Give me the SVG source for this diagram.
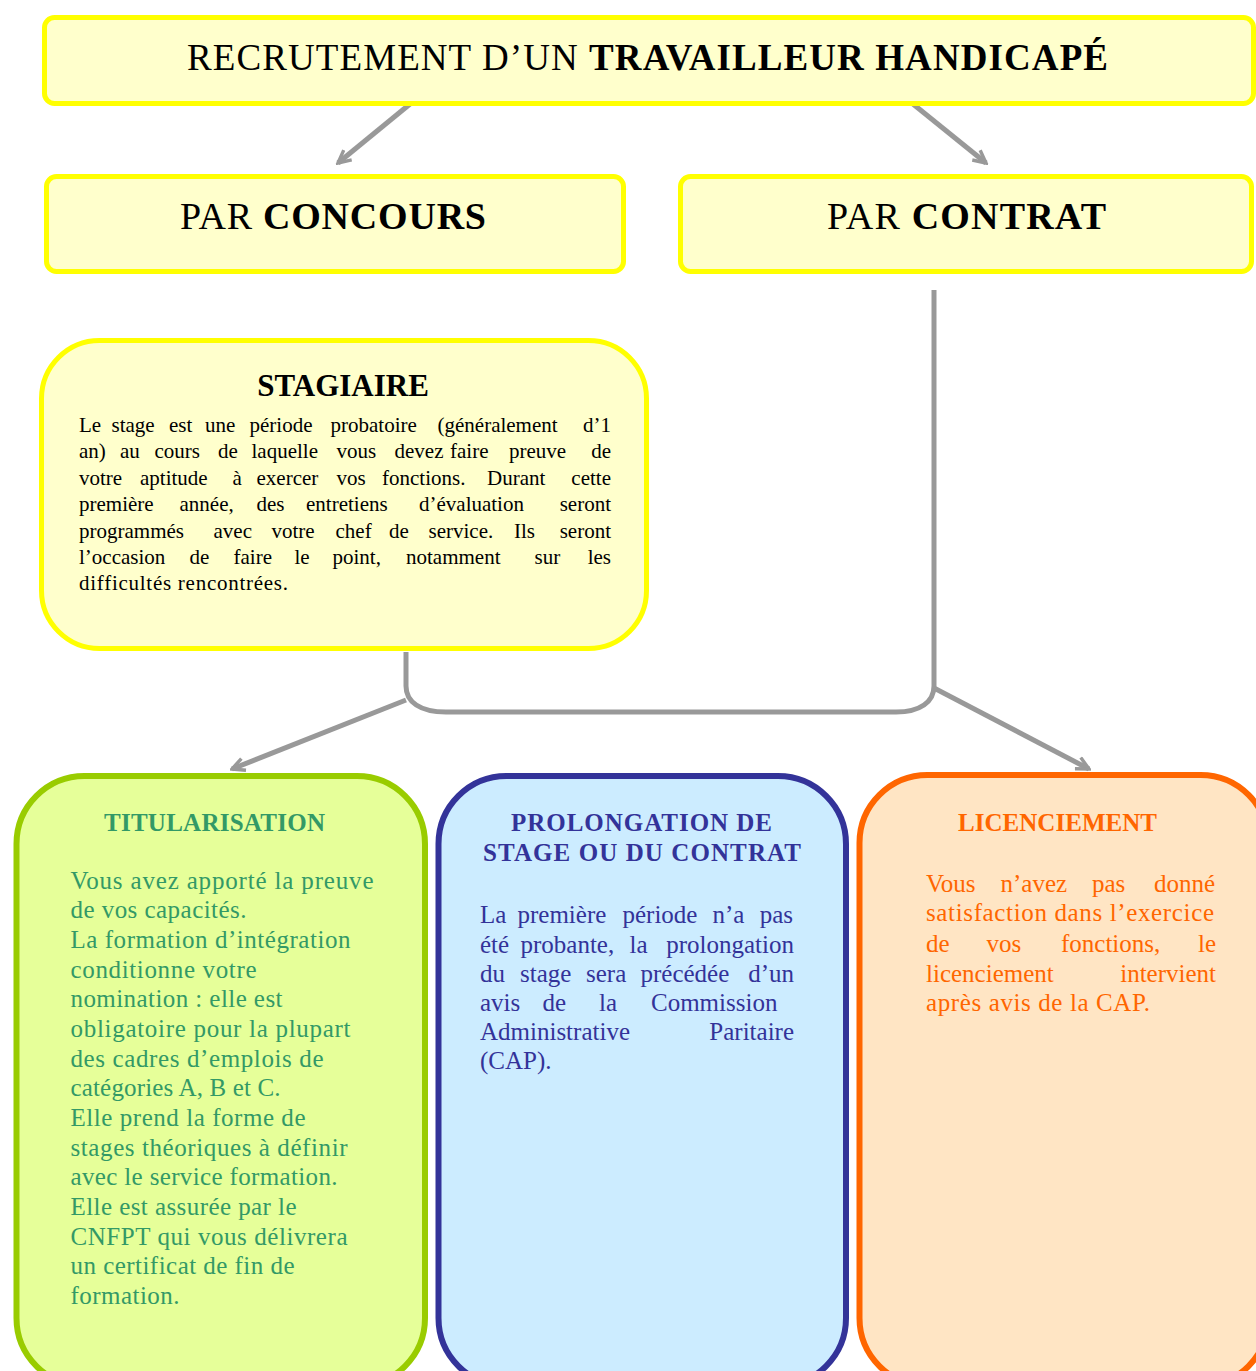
<svg xmlns="http://www.w3.org/2000/svg" width="1256" height="1371" viewBox="0 0 1256 1371">
<style>
text{font-family:"Liberation Serif","Times New Roman",serif;}
.yb{fill:#FFFFCC;stroke:#FFFF00;stroke-width:5;}
.head{font-size:37px;fill:#000;}
.par{font-size:38px;fill:#000;}
.b{font-weight:bold;}
.stt{font-size:31px;font-weight:bold;fill:#000;}
.sb{font-size:21px;fill:#000;}
.bt{font-size:25px;font-weight:bold;}
.bd{font-size:25px;}
.e{text-anchor:end;}
.g{fill:#339966;}
.bl{fill:#333399;}
.o{fill:#FF6600;}
.con{fill:none;stroke:#999999;stroke-width:5;}
</style>
<defs>
<marker id="ah" viewBox="0 0 14 14" refX="12" refY="7" markerWidth="16" markerHeight="16" markerUnits="userSpaceOnUse" orient="auto">
<path d="M1,1.5 L12,7 L1,12.5" fill="none" stroke="#999999" stroke-width="3"/>
</marker>
</defs>
<rect width="1256" height="1371" fill="#FFFFFF"/>

<g id="connectors">
<path class="con" d="M410,104 L338,163" marker-end="url(#ah)"/>
<path class="con" d="M913,104 L986,163" marker-end="url(#ah)"/>
<path class="con" d="M934,290 V686 C934,702 920,712 896,712 H446 C420,712 406,702 406,686 V652"/>
<path class="con" d="M406,700 L232,769" marker-end="url(#ah)"/>
<path class="con" d="M934,688 L1089,769" marker-end="url(#ah)"/>
</g>

<g id="n-recrutement">
<rect class="yb" x="44.5" y="17.5" width="1209" height="86" rx="10"/>
<text class="head" x="187" y="70" textLength="921" lengthAdjust="spacing">RECRUTEMENT D’UN <tspan class="b">TRAVAILLEUR HANDICAPÉ</tspan></text>
</g>

<g id="n-concours">
<rect class="yb" x="46.5" y="176.5" width="577" height="95" rx="10"/>
<text class="par" x="180" y="229" textLength="306" lengthAdjust="spacing">PAR <tspan class="b">CONCOURS</tspan></text>
</g>

<g id="n-contrat">
<rect class="yb" x="680.5" y="176.5" width="571" height="95" rx="10"/>
<text class="par" x="827" y="229" textLength="279" lengthAdjust="spacing">PAR <tspan class="b">CONTRAT</tspan></text>
</g>

<g id="n-stagiaire">
<rect class="yb" x="41.5" y="340.5" width="605" height="308" rx="58"/>
<text class="stt" x="343" y="396" text-anchor="middle">STAGIAIRE</text>
<text class="sb" y="432"><tspan x="79">Le</tspan><tspan x="111.5">stage</tspan><tspan x="169">est</tspan><tspan x="205">une</tspan><tspan x="249.5">période</tspan><tspan x="330.5">probatoire</tspan><tspan x="437.5">(généralement</tspan></text>
<text class="sb e" x="611" y="432">d’1</text>
<text class="sb" y="458.4"><tspan x="79">an)</tspan><tspan x="120">au</tspan><tspan x="154.5">cours</tspan><tspan x="218">de</tspan><tspan x="251.5">laquelle</tspan><tspan x="336.5">vous</tspan><tspan x="394.5">devez</tspan><tspan x="450">faire</tspan><tspan x="509">preuve</tspan></text>
<text class="sb e" x="611" y="458.4">de</text>
<text class="sb" y="484.8"><tspan x="79">votre</tspan><tspan x="140">aptitude</tspan><tspan x="232.5">à</tspan><tspan x="256.5">exercer</tspan><tspan x="336.5">vos</tspan><tspan x="382">fonctions.</tspan><tspan x="487">Durant</tspan></text>
<text class="sb e" x="611" y="484.8">cette</text>
<text class="sb" y="511.2"><tspan x="79">première</tspan><tspan x="179.5">année,</tspan><tspan x="256.5">des</tspan><tspan x="306">entretiens</tspan><tspan x="419">d’évaluation</tspan></text>
<text class="sb e" x="611" y="511.2">seront</text>
<text class="sb" y="537.6"><tspan x="79">programmés</tspan><tspan x="213.5">avec</tspan><tspan x="271.5">votre</tspan><tspan x="335.5">chef</tspan><tspan x="389">de</tspan><tspan x="428.5">service.</tspan><tspan x="514">Ils</tspan></text>
<text class="sb e" x="611" y="537.6">seront</text>
<text class="sb" y="564"><tspan x="79">l’occasion</tspan><tspan x="189.5">de</tspan><tspan x="233.5">faire</tspan><tspan x="294.5">le</tspan><tspan x="332.5">point,</tspan><tspan x="406">notamment</tspan><tspan x="534.5">sur</tspan></text>
<text class="sb e" x="611" y="564">les</text>
<text class="sb" x="79" y="590.4" textLength="209" lengthAdjust="spacing">difficultés rencontrées.</text>
</g>

<g id="n-titularisation">
<rect x="16.5" y="776" width="408.5" height="610" rx="68" fill="#E6FF99" stroke="#99CC00" stroke-width="6"/>
<text class="bt g" x="104" y="831" textLength="221" lengthAdjust="spacing">TITULARISATION</text>
<text class="bd g" x="70.5" y="888.6" textLength="303" lengthAdjust="spacing">Vous avez apporté la preuve</text>
<text class="bd g" x="70.5" y="918.3" textLength="176" lengthAdjust="spacing">de vos capacités.</text>
<text class="bd g" x="70.5" y="947.9" textLength="280" lengthAdjust="spacing">La formation d’intégration</text>
<text class="bd g" x="70.5" y="977.6" textLength="186" lengthAdjust="spacing">conditionne votre</text>
<text class="bd g" x="70.5" y="1007.2" textLength="212" lengthAdjust="spacing">nomination : elle est</text>
<text class="bd g" x="70.5" y="1036.9" textLength="280" lengthAdjust="spacing">obligatoire pour la plupart</text>
<text class="bd g" x="70.5" y="1066.6" textLength="253" lengthAdjust="spacing">des cadres d’emplois de</text>
<text class="bd g" x="70.5" y="1096.2" textLength="210" lengthAdjust="spacing">catégories A, B et C.</text>
<text class="bd g" x="70.5" y="1125.9" textLength="235" lengthAdjust="spacing">Elle prend la forme de</text>
<text class="bd g" x="70.5" y="1155.5" textLength="277" lengthAdjust="spacing">stages théoriques à définir</text>
<text class="bd g" x="70.5" y="1185.2" textLength="267" lengthAdjust="spacing">avec le service formation.</text>
<text class="bd g" x="70.5" y="1214.9" textLength="226" lengthAdjust="spacing">Elle est assurée par le</text>
<text class="bd g" x="70.5" y="1244.5" textLength="277" lengthAdjust="spacing">CNFPT qui vous délivrera</text>
<text class="bd g" x="70.5" y="1274.2" textLength="224" lengthAdjust="spacing">un certificat de fin de</text>
<text class="bd g" x="70.5" y="1303.8" textLength="109" lengthAdjust="spacing">formation.</text>
</g>

<g id="n-prolongation">
<rect x="438.5" y="776" width="407.5" height="610" rx="68" fill="#CCECFF" stroke="#333399" stroke-width="6"/>
<text class="bt bl" x="511" y="831" textLength="261" lengthAdjust="spacing">PROLONGATION DE</text>
<text class="bt bl" x="483" y="860.7" textLength="318" lengthAdjust="spacing">STAGE OU DU CONTRAT</text>
<text class="bd bl" y="923.3"><tspan x="480">La</tspan><tspan x="517.5">première</tspan><tspan x="622.5">période</tspan><tspan x="712.5">n’a</tspan></text>
<text class="bd bl e" x="793" y="923.3">pas</text>
<text class="bd bl" y="952.5"><tspan x="480">été</tspan><tspan x="520.5">probante,</tspan><tspan x="629.5">la</tspan></text>
<text class="bd bl e" x="794" y="952.5">prolongation</text>
<text class="bd bl" y="981.7"><tspan x="480">du</tspan><tspan x="520">stage</tspan><tspan x="586">sera</tspan><tspan x="640.5">précédée</tspan></text>
<text class="bd bl e" x="794" y="981.7">d’un</text>
<text class="bd bl" y="1010.9"><tspan x="480">avis</tspan><tspan x="542.5">de</tspan><tspan x="599">la</tspan><tspan x="651">Commission</tspan></text>
<text class="bd bl" x="480" y="1040.1">Administrative</text>
<text class="bd bl e" x="794" y="1040.1">Paritaire</text>
<text class="bd bl" x="480" y="1069.3">(CAP).</text>
</g>

<g id="n-licenciement">
<rect x="859.5" y="775" width="409" height="611" rx="68" fill="#FFE5C4" stroke="#FF6600" stroke-width="6"/>
<text class="bt o" x="958" y="831" textLength="199" lengthAdjust="spacing">LICENCIEMENT</text>
<text class="bd o" y="891.7"><tspan x="926">Vous</tspan><tspan x="1000.5">n’avez</tspan><tspan x="1092">pas</tspan></text>
<text class="bd o e" x="1215" y="891.7">donné</text>
<text class="bd o" x="926" y="920.5" textLength="288" lengthAdjust="spacing">satisfaction dans l’exercice</text>
<text class="bd o" y="951.5"><tspan x="926">de</tspan><tspan x="986.5">vos</tspan><tspan x="1061">fonctions,</tspan></text>
<text class="bd o e" x="1216" y="951.5">le</text>
<text class="bd o" x="926" y="981.5">licenciement</text>
<text class="bd o e" x="1216" y="981.5">intervient</text>
<text class="bd o" x="926" y="1010.5" textLength="224" lengthAdjust="spacing">après avis de la CAP.</text>
</g>
</svg>
